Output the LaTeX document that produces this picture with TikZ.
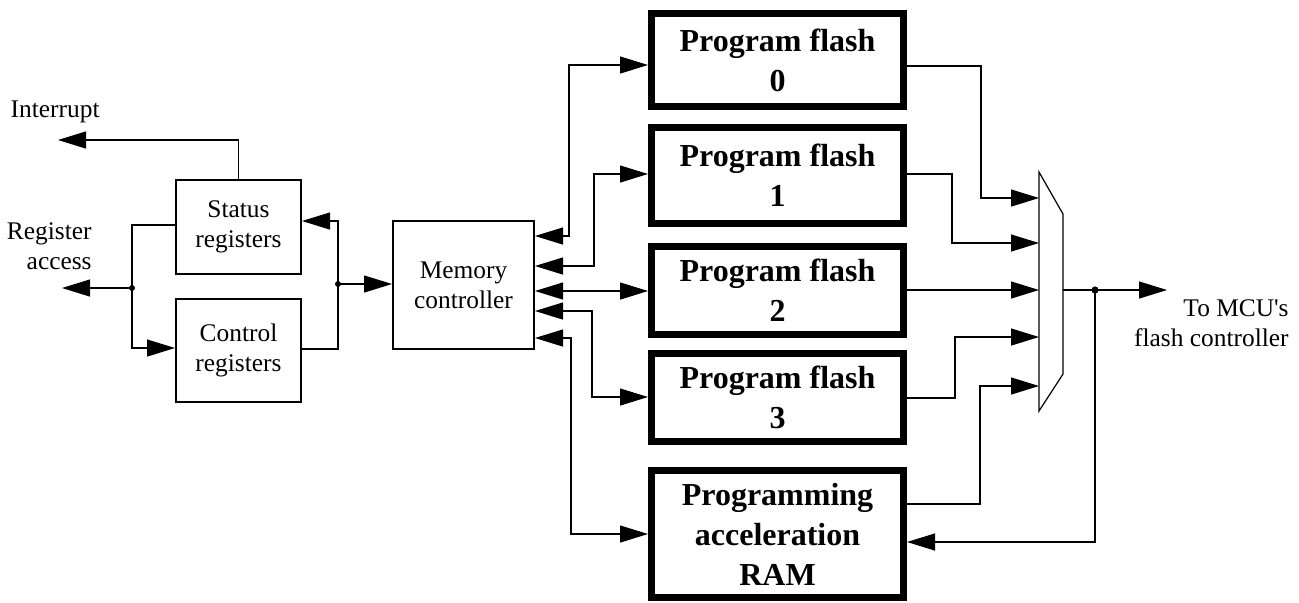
\documentclass[tikz,border=0pt]{standalone}
\usepackage{fontspec}
\setmainfont{Liberation Serif}
\usetikzlibrary{arrows.meta,calc}
\newcommand{\regfont}{\fontsize{12.7pt}{15.2pt}\selectfont}
\newcommand{\flashfont}{\fontsize{16pt}{20pt}\selectfont\bfseries}

\begin{document}
\begin{tikzpicture}[x=0.5pt,y=-0.5pt,>={Triangle[length=14pt,width=8.5pt]},font=\regfont,
  conn/.style={line width=0.6pt},
  regbox/.style={draw,line width=1.2pt,inner sep=0pt,align=center,minimum width=62.3pt},
  flashbox/.style={draw,line width=3.5pt,inner sep=0pt,align=center,minimum width=126pt,font=\flashfont},
  lbl/.style={align=right,anchor=east,inner sep=0pt}]
\useasboundingbox (0,0) rectangle (1299,602);
% register side
\node[regbox,minimum height=46.8pt] (st) at (238.5,227) {Status\\registers};
\node[regbox,minimum height=51.3pt] (ctl) at (238.5,350.5) {Control\\registers};
\node[regbox,minimum width=70.3pt,minimum height=63.8pt] (mc) at (463.5,285) {Memory\\controller};
\node[lbl] (intr) at (100,112) {Interrupt};
\node[lbl] (regacc) at (92,246) {Register\\access};
\coordinate (intrend) at (58,140);
\coordinate (regend) at (62,288);
\coordinate (rj) at (132,288);
\coordinate (mj) at (338,284);
% flash blocks
\node[flashbox,minimum height=46.5pt] (pf0) at (777.5,60) {Program flash\\0};
\node[flashbox,minimum height=48pt] (pf1) at (777.5,175.5) {Program flash\\1};
\node[flashbox,minimum height=44pt] (pf2) at (777.5,290.5) {Program flash\\2};
\node[flashbox,minimum height=44pt] (pf3) at (777.5,397.5) {Program flash\\3};
\node[flashbox,minimum height=63.5pt] (ram) at (777.5,534) {Programming\\acceleration\\RAM};
% mux
\draw[conn] (1039,172) -- (1063,214) -- (1063,374) -- (1039,411) -- cycle;
\foreach \i/\y in {0/198,1/243,2/290,3/337,4/386} \coordinate (in\i) at (1039,\y);
\coordinate (muxout) at (1063,290);
\coordinate (split) at (1095,290);
\coordinate (mcuend) at (1167,290);
\node[lbl] (mcu) at (1289,323) {To MCU\textquotesingle s\\flash controller};
% left connections
\draw[conn,->] (st.north) |- (intrend);
\draw[conn] (st.west |- 0,225) -| (rj);
\draw[conn,->] (rj) |- (ctl.west |- 0,348);
\draw[conn,->] (rj) -- (regend);
\draw[conn,->] (mj) |- (st.east |- 0,221);
\draw[conn] (ctl.east |- 0,349) -| (mj);
\draw[conn,->] (mj) -- (mc.west |- mj);
% memory controller to flash
\draw[conn,<->] (mc.east |- 0,236) -- (569,236) |- (pf0.west |- 0,65);
\draw[conn,<->] (mc.east |- 0,266) -- (594,266) |- (pf1.west |- 0,174);
\draw[conn,<->] (mc.east |- 0,291) -- (pf2.west |- 0,291);
\draw[conn,<->] (mc.east |- 0,311) -- (592,311) |- (pf3.west |- 0,397);
\draw[conn,<->] (mc.east |- 0,338) -- (571,338) |- (ram.west);
% flash to mux
\draw[conn,->] (pf0.east |- 0,66) -- (981,66) |- (in0);
\draw[conn,->] (pf1.east |- 0,174) -- (952,174) |- (in1);
\draw[conn,->] (pf2.east |- 0,290) -- (in2);
\draw[conn,->] (pf3.east |- 0,398) -- (955,398) |- (in3);
\draw[conn,->] (ram.east |- 0,504) -- (980,504) |- (in4);
\draw[conn,->] (muxout) -- (mcuend);
\draw[conn,->] (split) |- (ram.east |- 0,542);
% dots
\foreach \p in {rj,mj} \fill (\p) circle (1.5pt);
\fill (split) circle (1.8pt);
\end{tikzpicture}
\end{document}
